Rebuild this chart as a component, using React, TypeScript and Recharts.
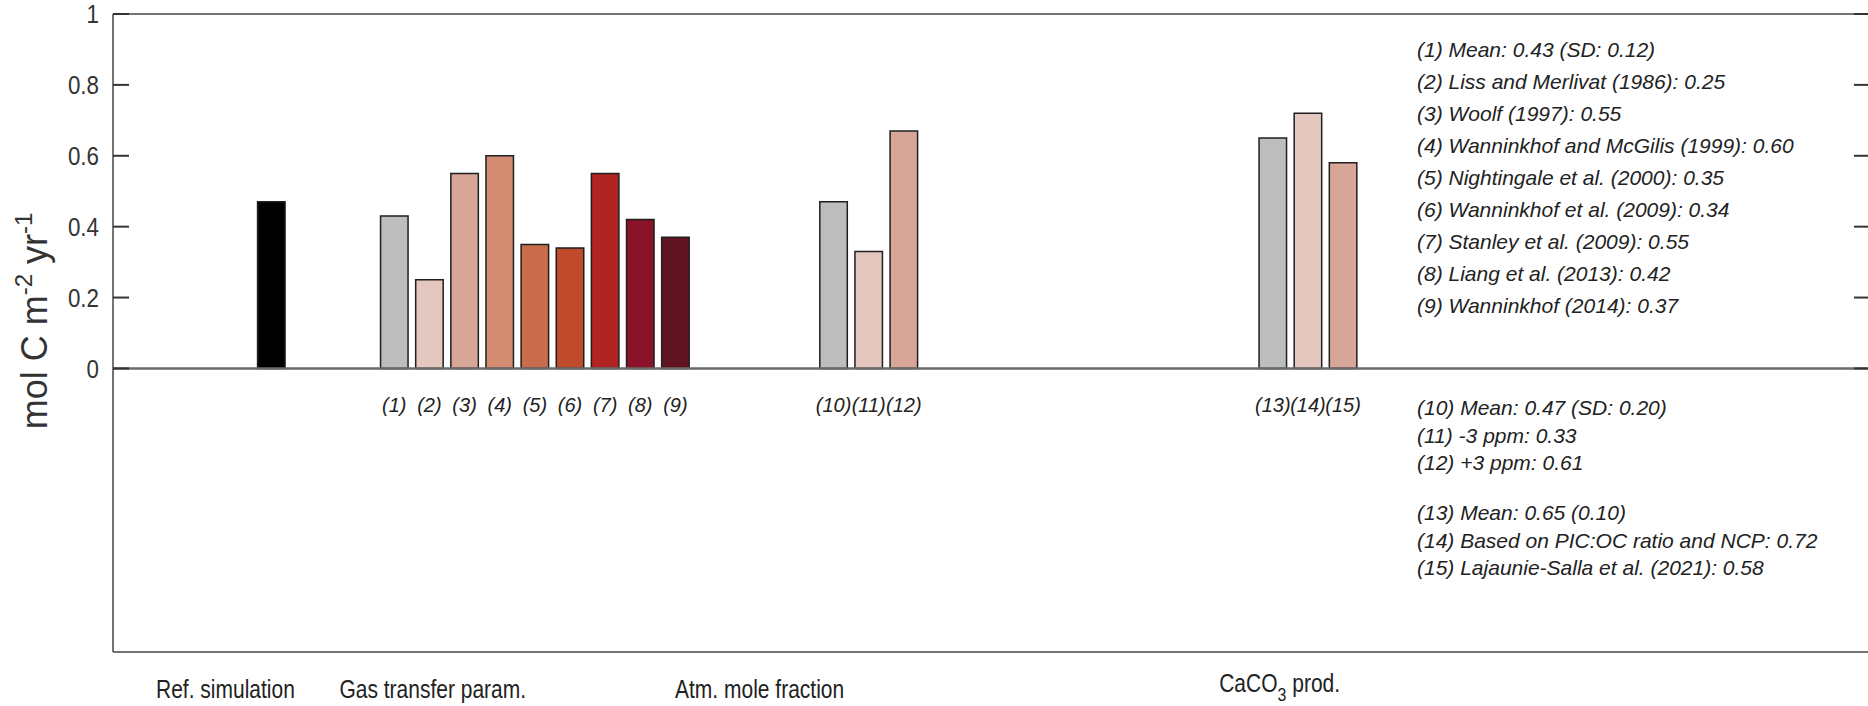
import { Bar, BarChart, Cell, LabelList, ReferenceLine, XAxis, YAxis } from "recharts";

const FONT = '"Liberation Sans", Arial, Helvetica, sans-serif';

// bar values as drawn, left to right (first bar = reference simulation)
const barLabels = ["", "(1)", "(2)", "(3)", "(4)", "(5)", "(6)", "(7)", "(8)", "(9)", "(10)", "(11)", "(12)", "(13)", "(14)", "(15)"];
const barValues = [0.47, 0.43, 0.25, 0.55, 0.6, 0.35, 0.34, 0.55, 0.42, 0.37, 0.47, 0.33, 0.67, 0.65, 0.72, 0.58];
// x position of each bar on the (unlabelled) numeric x axis
const barX = [4.5, 8, 9, 10, 11, 12, 13, 14, 15, 16, 20.5, 21.5, 22.5, 33, 34, 35];
const barColors = [
  "#000000", "#bdbdbd", "#e4c8bf", "#d8a696", "#d28c72", "#c96c4b", "#bf4a2c", "#b22424",
  "#8a1229", "#601320", "#bdbdbd", "#e4c8bf", "#d8a696", "#bdbdbd", "#e4c8bf", "#d8a696",
];

const groupNames = ["Ref. simulation", "Gas transfer param.", "Atm. mole fraction", "CaCO3 prod."];
const groupTicks = [3.2, 9.1, 18.4, 33.2];
const yTicks = [0, 0.2, 0.4, 0.6, 0.8, 1];
const X_MAX = 50;

const gasNotes = [
  "(1) Mean: 0.43 (SD: 0.12)",
  "(2) Liss and Merlivat (1986): 0.25",
  "(3) Woolf (1997): 0.55",
  "(4) Wanninkhof and McGilis (1999): 0.60",
  "(5) Nightingale et al. (2000): 0.35",
  "(6) Wanninkhof et al. (2009): 0.34",
  "(7) Stanley et al. (2009): 0.55",
  "(8) Liang et al. (2013): 0.42",
  "(9) Wanninkhof (2014): 0.37",
];
const atmNotes = ["(10) Mean: 0.47 (SD: 0.20)", "(11) -3 ppm: 0.33", "(12) +3 ppm: 0.61"];
const caco3Notes = [
  "(13) Mean: 0.65 (0.10)",
  "(14) Based on PIC:OC ratio and NCP: 0.72",
  "(15) Lajaunie-Salla et al. (2021): 0.58",
];

const data = barValues.map((value, i) => ({ x: barX[i], value, label: barLabels[i] }));

function YTitle(props: any) {
  const vb = props.viewBox || { x: 0, y: 0, width: 0, height: 0 };
  const cx = vb.x + 47;
  const cy = vb.y + vb.height / 2 - 12;
  return (
    <text x={cx} y={cy} transform={`rotate(-90 ${cx} ${cy})`} textAnchor="middle" fontSize={36} fill="#333" fontFamily={FONT}>
      mol C m<tspan dy={-15} fontSize={24}>-2</tspan>
      <tspan dy={15}> yr</tspan>
      <tspan dy={-15} fontSize={24}>-1</tspan>
    </text>
  );
}

// label and a short tick pointing into the plot; the axis line sits tickMargin px right of x
function LeftTick(props: any) {
  const { x, y, payload } = props;
  const squeeze = `translate(${x} 0) scale(0.86 1) translate(${-x} 0)`;
  return (
    <g>
      <path d={`M${x + 14},${y}h16`} stroke="#333" strokeWidth={2} fill="none" />
      <text x={x} y={y} dy="0.355em" transform={squeeze} textAnchor="end" fontSize={26} fill="#333" fontFamily={FONT}>
        {payload.value}
      </text>
    </g>
  );
}

function RightTick(props: any) {
  const { x, y } = props;
  return <path d={`M${x - 16},${y}h16`} stroke="#333" strokeWidth={2} fill="none" />;
}

function GroupTick(props: any) {
  const { x, y, payload } = props;
  const name = groupNames[groupTicks.indexOf(payload.value)] ?? "";
  const squeeze = `translate(${x} 0) scale(0.84 1) translate(${-x} 0)`;
  if (name.startsWith("CaCO3")) {
    return (
      <text x={x} y={y + 40} transform={squeeze} textAnchor="middle" fontSize={25} fill="#222" fontFamily={FONT}>
        CaCO<tspan dy={9} fontSize={19}>3</tspan>
        <tspan dy={-9}>{name.slice(5)}</tspan>
      </text>
    );
  }
  return (
    <text x={x} y={y + 46} transform={squeeze} textAnchor="middle" fontSize={25} fill="#222" fontFamily={FONT}>
      {name}
    </text>
  );
}

function Notes({ lines, top, lineHeight }: { lines: string[]; top: number; lineHeight: number }) {
  return (
    <div style={{ position: "absolute", left: 1417, top, fontSize: 21, fontStyle: "italic", color: "#222", whiteSpace: "nowrap" }}>
      {lines.map((l) => (
        <div key={l} style={{ height: lineHeight, lineHeight: `${lineHeight}px` }}>
          {l}
        </div>
      ))}
    </div>
  );
}

export default function App() {
  return (
    <div
      style={{
        position: "absolute",
        left: 0,
        top: 0,
        width: 1868,
        height: 706,
        overflow: "hidden",
        background: "#fff",
        fontFamily: FONT,
      }}
    >
      <BarChart width={1890} height={706} data={data} margin={{ top: 14, right: 0, bottom: 0, left: 0 }}>
        <XAxis
          dataKey="x"
          type="number"
          domain={[0, X_MAX]}
          allowDataOverflow
          ticks={groupTicks}
          interval={0}
          tick={<GroupTick />}
          tickLine={false}
          tickSize={0}
          tickMargin={0}
          height={54}
          stroke="#444"
          strokeWidth={1.5}
        />
        <YAxis
          yAxisId="left"
          type="number"
          domain={[-0.8, 1]}
          ticks={yTicks}
          interval={0}
          allowDataOverflow
          width={113}
          tickLine={false}
          tickSize={0}
          tickMargin={14}
          stroke="#444"
          strokeWidth={1.5}
          tick={<LeftTick />}
          label={<YTitle />}
        />
        <YAxis
          yAxisId="right"
          orientation="right"
          type="number"
          domain={[-0.8, 1]}
          ticks={yTicks}
          interval={0}
          allowDataOverflow
          width={20}
          tickLine={false}
          tickSize={0}
          tickMargin={0}
          tick={<RightTick />}
          stroke="#444"
          strokeWidth={1.5}
        />
        <ReferenceLine yAxisId="left" y={1} stroke="#444" strokeWidth={1.5} />
        <ReferenceLine yAxisId="left" y={0} stroke="#6a6a6a" strokeWidth={2.5} />
        <Bar yAxisId="left" dataKey="value" barSize={27.5} stroke="#1f1f1f" strokeWidth={1.5} isAnimationActive={false}>
          {data.map((d, i) => (
            <Cell key={d.x} fill={barColors[i]} />
          ))}
          <LabelList
            dataKey="label"
            position="bottom"
            offset={29}
            fontSize={20}
            fontStyle="italic"
            fill="#222"
            fontFamily={FONT}
          />
        </Bar>
      </BarChart>
      <Notes lines={gasNotes} top={34} lineHeight={32} />
      <Notes lines={atmNotes} top={394} lineHeight={27.5} />
      <Notes lines={caco3Notes} top={499} lineHeight={27.5} />
    </div>
  );
}
